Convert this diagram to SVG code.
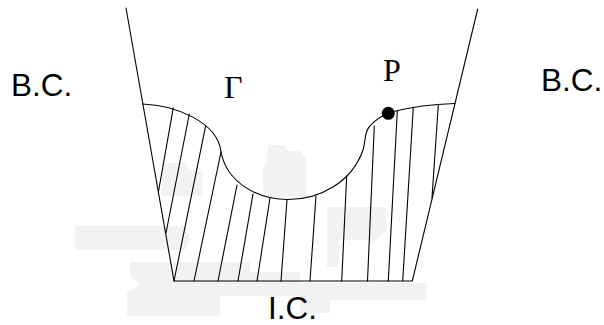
<svg xmlns="http://www.w3.org/2000/svg" width="604" height="325" viewBox="0 0 604 325">
<style>
.ln{fill:none;stroke:#000;stroke-width:1.1;stroke-linecap:round}
.sans{font-family:"Liberation Sans",Arial,sans-serif;font-size:31.5px;fill:#000}
.serif{font-family:"Liberation Serif","Times New Roman",serif;font-size:32px;fill:#000}
.ghost{fill:#f2f2f2;stroke:none}
</style>
<rect width="604" height="325" fill="#fff"/>
<g id="ghost">
<polygon class="ghost" points="268,145 285,145 288,151 300,151 307,160 307,197 264,197 262,172 267,160"/>
<polygon class="ghost" points="162,163 185,163 190,170 203,172 203,196 162,196"/>
<polygon class="ghost" points="75,226 185,226 190,238 185,250 75,250"/>
<polygon class="ghost" points="327,207 385,207 387,230 375,240 340,240 338,267 327,267"/>
<polygon class="ghost" points="130,262 250,262 250,272 300,272 300,283 427,283 427,300 330,300 330,313 300,313 300,296 220,296 220,316 127,316 127,293 140,285 130,275"/>
</g>
<g id="boundaries">
<path class="ln" d="M126,8 L174,281 L412.3,281 L477.7,9"/>
</g>
<g id="gamma-curve">
<path class="ln" d="M142.5,104 C175,105 218,122 221,152 C227,183 258,199.5 288,199.5 C320,199.5 352,182 363,150 C366,140 364,132 370,126 C375,120 382,116 388,113 C410,107 435,104 455,103.5"/>
</g>
<g id="hatching">
<path class="ln" d="M173.3,107.7 L158.4,192 M189.3,114 L166,233 M205.7,125.7 L174,281 M221,152 L194,281 M237,185 L218,281 M253,194 L238,281 M270,198 L257,281 M287,199.5 L281,281 M316,196 L310,281 M346.7,176 L341.7,281 M374.3,126 L367.5,281 M397.3,110.7 L388.3,281 M413.3,107.3 L402.7,281 M438.3,105 L432,198"/>
</g>
<g id="point-P">
<circle cx="388.3" cy="113.3" r="6.5" fill="#000"/>
<text class="serif" x="383" y="81">P</text>
</g>
<g id="label-gamma">
<text class="serif" x="224" y="98.3">Γ</text>
</g>
<g id="labels">
<text class="sans" x="11" y="95.7">B.C.</text>
<text class="sans" x="541" y="90.7">B.C.</text>
<text class="sans" x="268" y="318.5">I.C.</text>
</g>
</svg>
